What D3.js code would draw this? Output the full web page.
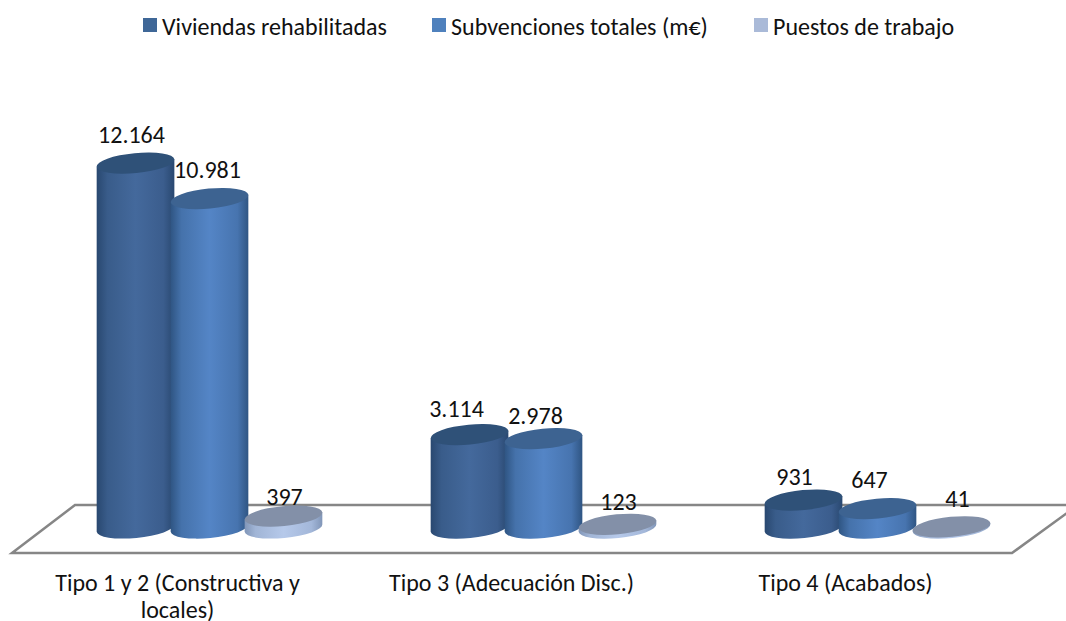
<!DOCTYPE html>
<html>
<head>
<meta charset="utf-8">
<script src="https://cdn.jsdelivr.net/npm/d3@7"></script>
<style>
  html, body { margin: 0; padding: 0; background: #fff; overflow: hidden; }
  svg { display: block; }
  svg, svg text { font-family: Carlito, Lato, "Open Sans", sans-serif; }
  text { fill: #111; }
</style>
</head>
<body>
<svg id="chart" width="1066" height="621"></svg>
<script>
// values
var categories = ['Tipo 1 y 2 (Constructiva y locales)', 'Tipo 3 (Adecuación Disc.)', 'Tipo 4 (Acabados)'];
var seriesNames = ['Viviendas rehabilitadas', 'Subvenciones totales (m€)', 'Puestos de trabajo'];
var viviendas = [12164, 3114, 931];
var subvenciones = [10981, 2978, 647];
var puestos = [397, 123, 41];
var seriesValues = [viviendas, subvenciones, puestos];

// the labels in the original were hand placed, so they need a nudge: [dx, dy] per series per category
var labelNudge = [
  [[-4, -29], [-13, -26], [-9, -24]],
  [[-2, -29], [-8, -23], [-8, -29]],
  [[1, -20], [1, -23], [6, -28]]
];

var colors = [
  {edge: '#294870', mid: '#44699c', top: '#2f5178', swatch: '#3f6797'},
  {edge: '#2f5583', mid: '#5485c6', top: '#3d6391', swatch: '#4f81bd'},
  {edge: '#8196b8', mid: '#b6c9ea', top: '#8390a8', swatch: '#aabad8'}
];

var svg = d3.select('#chart');
var fmt = d3.formatLocale({decimal: ',', thousands: '.', grouping: [3], currency: ['', '€']}).format(',');

// bars sit on the floor, the labels follow its front edge
var x0 = d3.scaleBand().domain(categories).range([42.5, 1044.5]);
var x1 = d3.scaleBand().domain([0, 1, 2]).range([0, 226]).paddingInner(-0.055);
var labelX = d3.scaleBand().domain(categories).range([10.5, 1012.5]);
var y = d3.scaleLinear().domain([0, 14000]).range([528, 108]);

var ry = 10, tilt = 5.5;
var rad = tilt * Math.PI / 180;

var defs = svg.append('defs');
colors.forEach(function(c, i) {
  var grad = defs.append('linearGradient').attr('id', 'cyl' + i);
  grad.append('stop').attr('offset', '0%').attr('stop-color', c.edge);
  grad.append('stop').attr('offset', '14%').attr('stop-color', d3.interpolateRgb(c.edge, c.mid)(0.6));
  grad.append('stop').attr('offset', '50%').attr('stop-color', c.mid);
  grad.append('stop').attr('offset', '86%').attr('stop-color', d3.interpolateRgb(c.edge, c.mid)(0.65));
  grad.append('stop').attr('offset', '100%').attr('stop-color', c.edge);
});

// floor
svg.append('path')
  .attr('d', 'M12,553L75,505L1078,505L1012,553Z')
  .attr('fill', 'none')
  .attr('stroke', '#868686')
  .attr('stroke-width', 2.5);

// axis labels
var axis = svg.append('g')
  .attr('transform', 'translate(0,570)')
  .call(d3.axisBottom(labelX).tickSize(0).tickPadding(0));
axis.select('.domain').remove();
axis.attr('font-family', null).attr('font-size', null);
axis.selectAll('text')
  .style('font-size', '24px')
  .call(wrap, 300);

function wrap(sel, width) {
  sel.each(function() {
    var text = d3.select(this);
    var words = text.text().split(' ');
    text.text(null);
    var line = [];
    var tspan = text.append('tspan').attr('x', 0).attr('y', 0).attr('dy', '0.88em');
    words.forEach(function(w) {
      line.push(w);
      tspan.text(line.join(' '));
      if (tspan.node().getComputedTextLength() > width) {
        line.pop();
        tspan.text(line.join(' '));
        line = [w];
        tspan = text.append('tspan').attr('x', 0).attr('y', 0).attr('dy', '2em').text(w);
      }
    });
  });
}

function cylinder(cx, rx, top, base) {
  var dx = rx * Math.cos(rad), dy = rx * Math.sin(rad);
  return 'M' + (cx - dx) + ',' + (top + dy) +
    'L' + (cx - dx) + ',' + (base + dy) +
    'A' + rx + ',' + ry + ' ' + (-tilt) + ' 0 0 ' + (cx + dx) + ',' + (base - dy) +
    'L' + (cx + dx) + ',' + (top - dy) + 'Z';
}

// later series overlap earlier ones
seriesValues.forEach(function(values, s) {
  var g = svg.append('g').attr('class', 'series');
  var rx = x1.bandwidth() / 2;
  var cx = function(i) { return x0(categories[i]) + x0.bandwidth() / 2 - 113 + x1(s) + rx; };

  g.selectAll('path.body')
    .data(values)
    .enter().append('path')
    .attr('class', 'body')
    .attr('fill', 'url(#cyl' + s + ')')
    .attr('d', function(d, i) { return cylinder(cx(i), rx, y(d), y(0)); });

  g.selectAll('ellipse')
    .data(values)
    .enter().append('ellipse')
    .attr('cx', 0).attr('cy', 0)
    .attr('rx', rx).attr('ry', ry)
    .attr('fill', colors[s].top)
    .attr('transform', function(d, i) {
      return 'translate(' + cx(i) + ',' + y(d) + ') rotate(' + (-tilt) + ')';
    });
});

// data labels go on top of everything
seriesValues.forEach(function(values, s) {
  var rx = x1.bandwidth() / 2;
  svg.append('g').selectAll('text')
    .data(values)
    .enter().append('text')
    .attr('text-anchor', 'middle')
    .attr('dominant-baseline', 'central')
    .style('font-size', '24px')
    .attr('x', function(d, i) {
      return x0(categories[i]) + x0.bandwidth() / 2 - 113 + x1(s) + rx + labelNudge[s][i][0];
    })
    .attr('y', function(d, i) { return y(d) + labelNudge[s][i][1]; })
    .text(function(d) { return fmt(d); });
});

// legend
var legendX = [143, 432, 754];
var legend = svg.append('g').selectAll('g')
  .data(seriesNames)
  .enter().append('g')
  .attr('transform', function(d, i) { return 'translate(' + legendX[i] + ',18)'; });
legend.append('rect')
  .attr('width', 14).attr('height', 14)
  .attr('fill', function(d, i) { return colors[i].swatch; });
legend.append('text')
  .attr('x', 19).attr('y', 8)
  .attr('dominant-baseline', 'central')
  .style('font-size', '24px')
  .text(function(d) { return d; });
</script>
</body>
</html>
